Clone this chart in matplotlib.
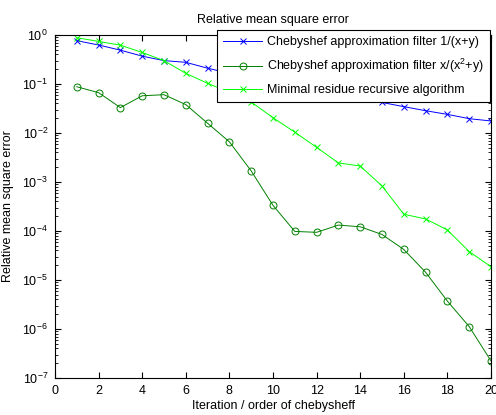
import matplotlib
matplotlib.use("Agg")
import matplotlib.pyplot as plt
import numpy as np

plt.rcParams["font.family"] = ["Liberation Sans", "DejaVu Sans"]
plt.rcParams["mathtext.fontset"] = "custom"
plt.rcParams["mathtext.rm"] = "Liberation Sans"

# data
iters = list(range(1, 21))
cheb_inv = [0.765, 0.625, 0.49, 0.37, 0.30, 0.277, 0.21, 0.165, 0.13, 0.105,
            0.087, 0.072, 0.06, 0.05, 0.042, 0.0345, 0.0285, 0.024, 0.0196, 0.0176]
cheb_frac = [0.088, 0.0665, 0.033, 0.0575, 0.0605, 0.038, 0.0158, 0.0066, 0.00168, 3.34e-4,
             9.8e-5, 9.4e-5, 1.32e-4, 1.22e-4, 8.5e-5, 4.2e-5, 1.44e-5, 3.7e-6, 1.12e-6, 2.23e-7]
min_res = [0.88, 0.74, 0.62, 0.44, 0.30, 0.165, 0.103, 0.068, 0.043, 0.0205,
           0.0104, 0.0051, 0.00245, 0.00212, 8.3e-4, 2.2e-4, 1.76e-4, 1.05e-4, 3.8e-5, 1.87e-5]
labels = ["Chebyshef approximation filter 1/(x+y)",
          "Chebyshef approximation filter x/(x$^2$+y)",
          "Minimal residue recursive algorithm"]

W, H = 496, 415
fig = plt.figure(figsize=(W / 100, H / 100), dpi=100)
ax = fig.add_axes([55 / W, 1 - 378 / H, (491 - 55) / W, (378 - 35) / H])

ax.semilogy(iters, cheb_inv, color="#0000ff", marker="x", ms=4.5, lw=0.7, mew=0.7, label=labels[0])
ax.semilogy(iters, cheb_frac, color="#008000", marker="o", ms=5, mfc="none", lw=0.7, mew=0.7, label=labels[1])
ax.semilogy(iters, min_res, color="#00ff00", marker="x", ms=4.5, lw=0.7, mew=0.7, label=labels[2])

ax.set_xlim(0, 20)
ax.set_ylim(1e-7, 1)
ax.set_xticks(range(0, 21, 2))
ax.tick_params(which="both", direction="in", top=True, right=True, labelsize=9)
ax.tick_params(which="major", length=4, pad=5)
ax.tick_params(which="minor", length=2)

ax.set_title("Relative mean square error", fontsize=9, pad=9)
ax.set_xlabel("Iteration / order of chebysheff", fontsize=9, labelpad=2)
ax.set_ylabel("Relative mean square error", fontsize=9, labelpad=6)

leg = ax.legend(loc="upper right", bbox_to_anchor=(490 / W, 1 - 30 / H),
                bbox_transform=fig.transFigure, fontsize=9, fancybox=False,
                framealpha=1, edgecolor="black", handlelength=3.1,
                handletextpad=0.4, borderpad=0.5, borderaxespad=0, labelspacing=0.7)
leg.get_frame().set_linewidth(0.8)

fig.savefig("out.png", dpi=100)
